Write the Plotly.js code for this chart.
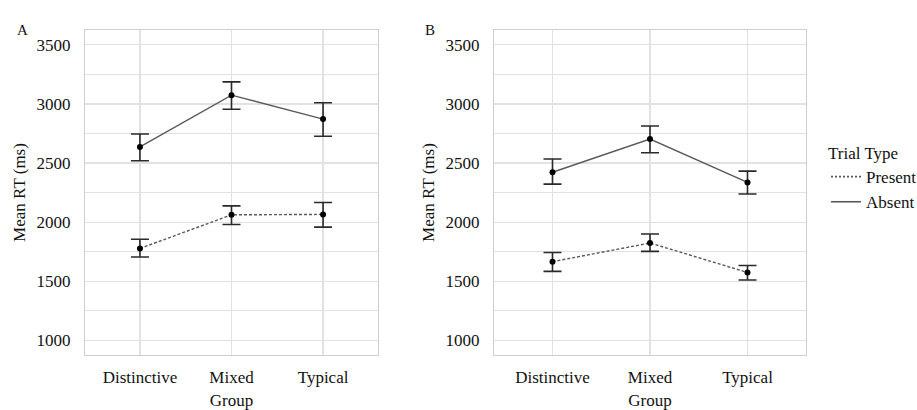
<!DOCTYPE html>
<html>
<head>
<meta charset="utf-8">
<script src="https://cdn.plot.ly/plotly-3.0.1.min.js"></script>
<style>html,body{margin:0;padding:0;background:#fff;}#chart{width:917px;height:410px;}</style>
</head>
<body>
<div id="chart"></div>
<script>
// ---- data ----
const groups = ["Distinctive", "Mixed", "Typical"];
const seriesNames = ["Present", "Absent"];

// Panel A
const aPresentMean = [1778, 2062, 2066];
const aPresentUpper = [1856, 2138, 2167];
const aPresentLower = [1706, 1980, 1958];
const aAbsentMean = [2636, 3074, 2872];
const aAbsentUpper = [2746, 3186, 3010];
const aAbsentLower = [2520, 2955, 2726];

// Panel B
const bPresentMean = [1666, 1824, 1575];
const bPresentUpper = [1744, 1900, 1634];
const bPresentLower = [1584, 1753, 1511];
const bAbsentMean = [2422, 2703, 2336];
const bAbsentUpper = [2534, 2813, 2432];
const bAbsentLower = [2322, 2587, 2238];

const yTicks = [1000, 1500, 2000, 2500, 3000, 3500];
const panelLabels = ["A", "B"];

// ---- build ----
const FONT = "Liberation Serif";
const lineColor = "#595959";
const PRESENT_DASH = "3px,2px";

function trace(name, mean, upper, lower, xa, ya, dash) {
  return {
    type: "scatter", mode: "lines+markers", name: name,
    x: groups, y: mean, xaxis: xa, yaxis: ya,
    showlegend: false,
    line: {color: lineColor, width: 1.4, dash: dash},
    marker: {color: "#000", size: 6},
    error_y: {
      type: "data", symmetric: false,
      array: upper.map((u, i) => u - mean[i]),
      arrayminus: lower.map((l, i) => mean[i] - l),
      color: "#2a2a2a", thickness: 1.6, width: 9
    }
  };
}
function legendEntry(name, dash) {
  return {
    type: "scatter", mode: "lines", name: name, x: [null], y: [null],
    xaxis: "x2", yaxis: "y2", showlegend: true, hoverinfo: "skip",
    line: {color: lineColor, width: 1.6, dash: dash}
  };
}

const data = [
  trace(seriesNames[0], aPresentMean, aPresentUpper, aPresentLower, "x", "y", PRESENT_DASH),
  trace(seriesNames[1], aAbsentMean, aAbsentUpper, aAbsentLower, "x", "y", "solid"),
  trace(seriesNames[0], bPresentMean, bPresentUpper, bPresentLower, "x2", "y2", PRESENT_DASH),
  trace(seriesNames[1], bAbsentMean, bAbsentUpper, bAbsentLower, "x2", "y2", "solid"),
  legendEntry(seriesNames[0], "2px,2px"),
  legendEntry(seriesNames[1], "solid")
];

function xaxis(domain, anchor) {
  return {
    domain: domain, anchor: anchor, type: "category",
    range: [-0.6, 2.6], showgrid: true, gridcolor: "#e2e2e2", gridwidth: 1.2,
    showline: true, mirror: true, linecolor: "#cfcfcf", linewidth: 1.2,
    ticks: "", ticklabelstandoff: 6, zeroline: false,
    tickfont: {family: FONT, size: 17, color: "#111"},
    title: {text: "Group", font: {family: FONT, size: 17, color: "#111"}, standoff: 8},
    fixedrange: true
  };
}
function yaxis(domain, anchor) {
  return {
    domain: domain, anchor: anchor, range: [877, 3625],
    tickvals: yTicks, ticktext: yTicks.map(String),
    showgrid: true, gridcolor: "#e2e2e2", gridwidth: 1.2,
    minor: {dtick: 250, tick0: 0, showgrid: true, gridcolor: "#e2e2e2", gridwidth: 1.2},
    showline: true, mirror: true, linecolor: "#cfcfcf", linewidth: 1.2,
    ticks: "", ticklabelstandoff: 10, zeroline: false,
    tickfont: {family: FONT, size: 17, color: "#111"},
    title: {text: "Mean RT (ms)", font: {family: FONT, size: 17, color: "#111"}, standoff: 6},
    fixedrange: true
  };
}

const yDom = [1 - 355 / 410, 1 - 30 / 410];
const layout = {
  width: 917, height: 410,
  margin: {l: 0, r: 0, t: 0, b: 0, autoexpand: false},
  paper_bgcolor: "#fff", plot_bgcolor: "#fff",
  font: {family: FONT, size: 17, color: "#111"},
  xaxis: xaxis([85 / 917, 378 / 917], "y"),
  yaxis: yaxis(yDom, "x"),
  xaxis2: xaxis([494 / 917, 806 / 917], "y2"),
  yaxis2: yaxis(yDom, "x2"),
  showlegend: true,
  legend: {
    x: 826 / 917, y: 1 - 137 / 410, xanchor: "left", yanchor: "top",
    title: {text: "Trial Type", side: "top", font: {family: FONT, size: 17, color: "#111"}},
    font: {family: FONT, size: 17, color: "#111"},
    bgcolor: "rgba(0,0,0,0)", tracegroupgap: 0, itemclick: false
  },
  annotations: [
    {text: panelLabels[0], x: 15 / 917, y: 1 - 20 / 410, xref: "paper", yref: "paper",
     showarrow: false, font: {family: FONT, size: 15, color: "#111"}},
    {text: panelLabels[1], x: 430 / 917, y: 1 - 20 / 410, xref: "paper", yref: "paper",
     showarrow: false, font: {family: FONT, size: 15, color: "#111"}}
  ]
};

Plotly.newPlot("chart", data, layout, {staticPlot: true, displayModeBar: false});
</script>
</body>
</html>
